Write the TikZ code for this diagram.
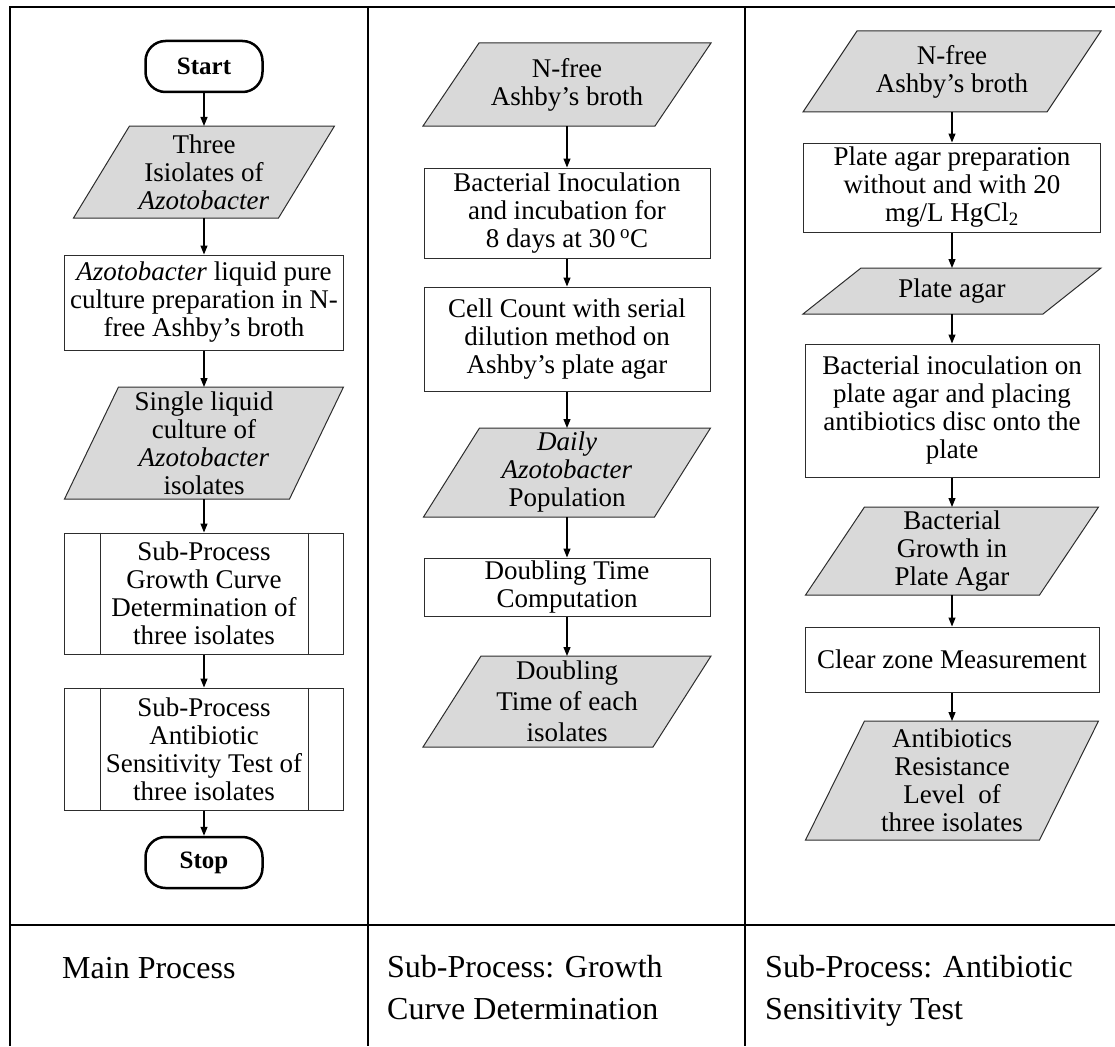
\documentclass[tikz,border=0pt]{standalone}
\usepackage{fontspec}
\setmainfont{Liberation Serif}
\usepackage{xcolor}
\definecolor{fcgray}{RGB}{217,217,217}
\definecolor{fcline}{RGB}{45,45,45}
\usepackage{tikz}
\usetikzlibrary{arrows.meta, positioning, backgrounds}

\tikzset{
  dims/.style 2 args={minimum width=#1pt, minimum height=#2pt},
  procbox/.style={draw=fcline, line width=1pt, rectangle, inner sep=0pt},
  iobox/.style={rectangle, inner sep=0pt, outer sep=0pt},
  iofill/.style={draw=fcline, fill=fcgray, line width=1pt, line join=miter},
  termbox/.style={draw=black, line width=2.5pt, rectangle, rounded corners=20pt,
                  inner sep=0pt, minimum width=117pt, minimum height=51pt,
                  font=\fontsize{25}{28}\selectfont\bfseries},
  fctext/.style={font=\fontsize{27}{28}\selectfont, align=center, inner sep=0pt},
  flow/.style={line width=1.2pt, -{Triangle[length=9pt, width=7pt]}},
  tablegrid/.style={line width=2.4pt},
  rowlabel/.style={font=\fontsize{32}{42}\selectfont, align=left, inner sep=0pt, anchor=base west},
}

\begin{document}
\begin{tikzpicture}[x=1pt, y=-1pt]
  \useasboundingbox (0,0) rectangle (1115,1046);

  % Table frame
  \draw[tablegrid] (1115,7) -- (10,7) -- (10,1046);
  \draw[tablegrid] (368,7) -- (368,1046);
  \draw[tablegrid] (745,7) -- (745,1046);
  \draw[tablegrid] (10,925) -- (1115,925);

  % --- Column 1: main process ---
  \node[termbox] (start) at (204,66.5) {Start};
  \node[iobox, dims={261}{92},
        label={[fctext]center:Three\\Isiolates of\\\textit{Azotobacter}}] (iso) at (204,172) {};
  \node[procbox, dims={279}{95},
        label={[fctext]center:\textit{Azotobacter} liquid pure\\culture preparation in N-\\free Ashby's broth}] (cult) at (204,302.5) {};
  \node[iobox, dims={279}{112},
        label={[fctext]center:Single liquid\\culture of\\\textit{Azotobacter}\\isolates}] (single) at (204,443) {};
  \node[procbox, dims={279}{121},
        label={[fctext]center:Sub-Process\\Growth Curve\\Determination of\\three isolates}] (sub1) at (204,593.5) {};
  \node[procbox, dims={279}{122},
        label={[fctext]center:Sub-Process\\Antibiotic\\Sensitivity Test of\\three isolates}] (sub2) at (204,749) {};
  \node[termbox] (stop) at (204,862.5) {Stop};
  % side bars of the sub-process boxes
  \foreach \n in {sub1,sub2} {
    \draw[draw=fcline, line width=1pt] ([xshift=36pt]\n.north west) -- ([xshift=36pt]\n.south west);
    \draw[draw=fcline, line width=1pt] ([xshift=-36pt]\n.north east) -- ([xshift=-36pt]\n.south east);
  }
  \draw[flow] (start) -- (iso);
  \draw[flow] (iso) -- (cult);
  \draw[flow] (cult) -- (single);
  \draw[flow] (single) -- (sub1);
  \draw[flow] (sub1) -- (sub2);
  \draw[flow] (sub2) -- (stop);

  % --- Column 2: growth curve ---
  \node[iobox, dims={288}{83},
        label={[fctext]center:N-free\\Ashby's broth}] (broth2) at (567,84.5) {};
  \node[procbox, dims={286}{90},
        label={[fctext]center:Bacterial Inoculation\\and incubation for\\8 days at 30\,\textsuperscript{o}C}] (inoc2) at (567,213) {};
  \node[procbox, dims={286}{104},
        label={[fctext]center:Cell Count with serial\\dilution method on\\Ashby's plate agar}] (count) at (567,339) {};
  \node[iobox, dims={287}{89},
        label={[fctext]center:\textit{Daily}\\\textit{Azotobacter}\\Population}] (daily) at (567,472.5) {};
  \node[procbox, dims={286}{58},
        label={[fctext]center:Doubling Time\\Computation}] (dtcomp) at (567,587) {};
  \node[iobox, dims={288}{91},
        label={[fctext, font=\fontsize{27}{31}\selectfont]center:Doubling\\Time of each\\isolates}] (dtime) at (567,701.5) {};
  \draw[flow] (broth2) -- (inoc2);
  \draw[flow] (inoc2) -- (count);
  \draw[flow] (count) -- (daily);
  \draw[flow] (daily) -- (dtcomp);
  \draw[flow] (dtcomp) -- (dtime);

  % --- Column 3: antibiotic sensitivity ---
  \node[iobox, dims={298}{81},
        label={[fctext]center:N-free\\Ashby's broth}] (broth3) at (952,71.5) {};
  \node[procbox, dims={297}{89},
        label={[fctext]center:Plate agar preparation\\without and with 20\\mg/L HgCl\textsubscript{2}}] (prep) at (952,187.5) {};
  \node[iobox, dims={298}{46},
        label={[fctext]center:Plate agar}] (plate) at (952,291) {};
  \node[procbox, dims={294}{133},
        label={[fctext]center:Bacterial inoculation on\\plate agar and placing\\antibiotics disc onto the\\plate}] (inoc3) at (952,410.5) {};
  \node[iobox, dims={293}{88},
        label={[fctext]center:Bacterial\\Growth in\\Plate Agar}] (growth) at (952,551) {};
  \node[procbox, dims={294}{65},
        label={[fctext]center:Clear zone Measurement}] (clear) at (952,659.5) {};
  \node[iobox, dims={293}{119},
        label={[fctext]center:Antibiotics\\Resistance\\Level\ \ of\\three isolates}] (resist) at (952,780.5) {};
  \draw[flow] (broth3) -- (prep);
  \draw[flow] (prep) -- (plate);
  \draw[flow] (plate) -- (inoc3);
  \draw[flow] (inoc3) -- (growth);
  \draw[flow] (growth) -- (clear);
  \draw[flow] (clear) -- (resist);

  % grey data shapes, slanted, behind their text
  \begin{pgfonlayer}{background}
    \foreach \n/\s in {iso/56, single/54, broth2/56, daily/56, dtime/58,
                       broth3/54, plate/58, growth/59, resist/59} {
      \draw[iofill] ([xshift=\s pt]\n.north west) -- (\n.north east)
        -- ([xshift=-\s pt]\n.south east) -- (\n.south west) -- cycle;
    }
  \end{pgfonlayer}

  % --- Bottom row labels (base = last line) ---
  \node[rowlabel] (lblmain) at (62,978) {Main Process};
  \node[rowlabel] (lblgrowth) at (387,1019) {Sub-Process: Growth\\Curve Determination};
  \node[rowlabel] (lblanti) at (765,1019) {Sub-Process: Antibiotic\\Sensitivity Test};
\end{tikzpicture}
\end{document}
